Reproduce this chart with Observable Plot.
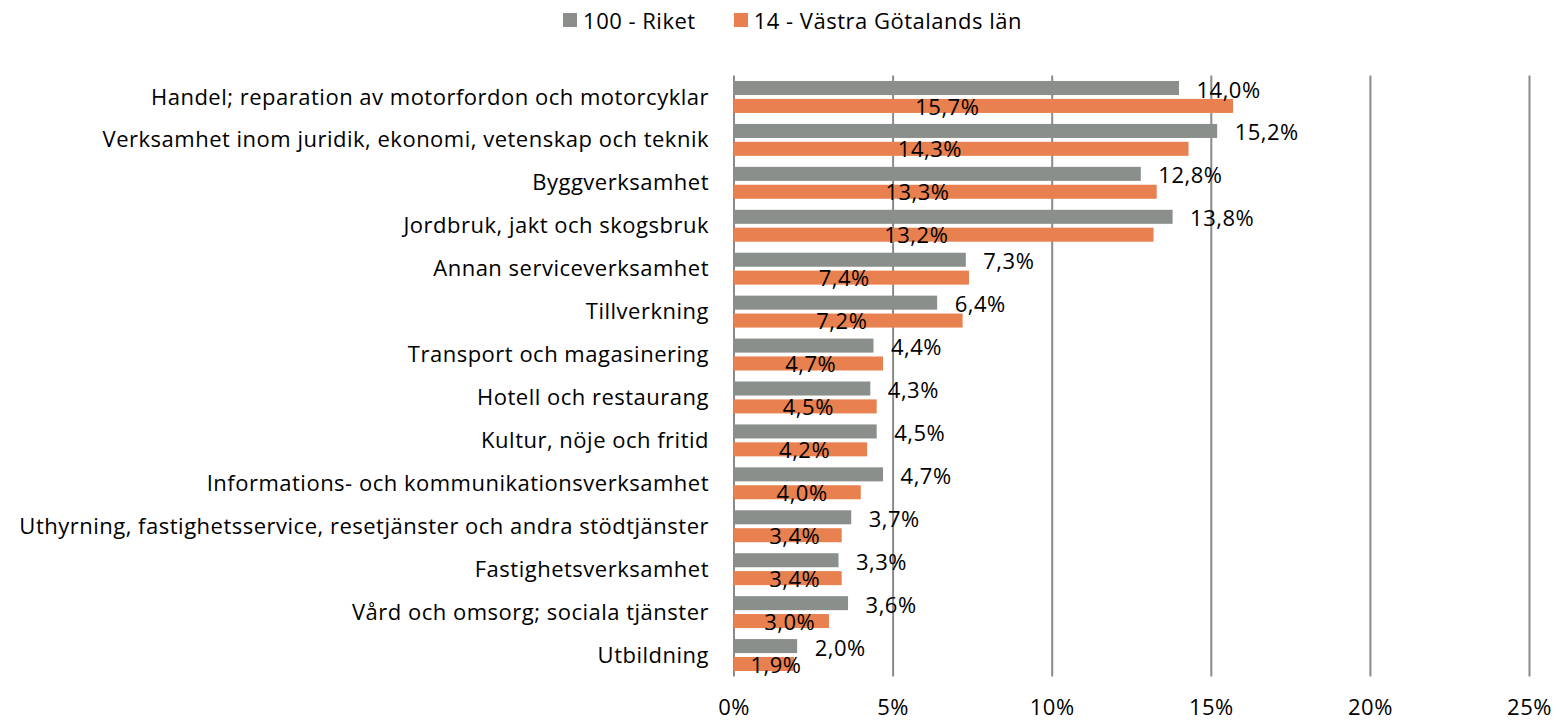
<!DOCTYPE html>
<html>
<head>
<meta charset="utf-8">
<script src="https://cdn.jsdelivr.net/npm/d3@7"></script>
<script src="https://cdn.jsdelivr.net/npm/@observablehq/plot@0.6"></script>
<style>
  html, body { margin: 0; padding: 0; background: #fff; }
  body { width: 1567px; height: 720px; overflow: hidden; font-family: "Open Sans", sans-serif; }
  #legend { height: 42px; display: flex; justify-content: center; align-items: center; font-size: 22px; letter-spacing: 0.5px; color: #000; padding-left: 18px; box-sizing: border-box; padding-bottom: 2px; }
  .item { display: flex; align-items: center; }
  .sw { width: 14px; height: 14px; margin-right: 6px; }
  #chart svg { display: block; }
</style>
</head>
<body>
<div id="legend"></div>
<div id="chart"></div>
<script>
const categories = [
  "Handel; reparation av motorfordon och motorcyklar",
  "Verksamhet inom juridik, ekonomi, vetenskap och teknik",
  "Byggverksamhet",
  "Jordbruk, jakt och skogsbruk",
  "Annan serviceverksamhet",
  "Tillverkning",
  "Transport och magasinering",
  "Hotell och restaurang",
  "Kultur, nöje och fritid",
  "Informations- och kommunikationsverksamhet",
  "Uthyrning, fastighetsservice, resetjänster och andra stödtjänster",
  "Fastighetsverksamhet",
  "Vård och omsorg; sociala tjänster",
  "Utbildning"
];
const seriesNames = ["100 - Riket", "14 - Västra Götalands län"];
const riket = [14.0, 15.2, 12.8, 13.8, 7.3, 6.4, 4.4, 4.3, 4.5, 4.7, 3.7, 3.3, 3.6, 2.0];
const vastra = [15.7, 14.3, 13.3, 13.2, 7.4, 7.2, 4.7, 4.5, 4.2, 4.0, 3.4, 3.4, 3.0, 1.9];
const xTicks = [0, 5, 10, 15, 20, 25];
const colors = ["#8B8F8C", "#E8804F"];

const rowsR = categories.map((c, i) => ({category: c, value: riket[i]}));
const rowsV = categories.map((c, i) => ({category: c, value: vastra[i]}));
const fmt = v => v.toFixed(1).replace(".", ",") + "%";

// legend
const legend = document.getElementById("legend");
seriesNames.forEach((name, i) => {
  const it = document.createElement("div");
  it.className = "item";
  if (i > 0) it.style.marginLeft = "38px";
  const sw = document.createElement("span");
  sw.className = "sw";
  sw.style.background = colors[i];
  const tx = document.createElement("span");
  tx.textContent = name;
  it.appendChild(sw); it.appendChild(tx);
  legend.appendChild(it);
});

const font = "'Open Sans', sans-serif";
const plot = Plot.plot({
  width: 1567,
  height: 678,
  marginLeft: 733.5,
  marginRight: 38,
  marginTop: 33.5,
  marginBottom: 43.5,
  style: {fontFamily: font, fontSize: "22px", letterSpacing: "0.5px", color: "#000", background: "#fff"},
  x: {domain: [0, 25], ticks: xTicks, tickFormat: d => d + "%", tickSize: 0, label: null},
  y: {domain: categories, padding: 0, round: false, tickSize: 0, label: null},
  marks: [
    Plot.ruleX(xTicks, {stroke: "#8a8a8a", strokeWidth: 2}),
    Plot.barX(rowsR, {x: "value", y: "category", fill: colors[0], insetTop: 5.5, insetBottom: 23.4}),
    Plot.barX(rowsV, {x: "value", y: "category", fill: colors[1], insetTop: 23.4, insetBottom: 5.5}),
    Plot.text(rowsR, {x: "value", y: "category", text: d => fmt(d.value), dx: 17, dy: -7, textAnchor: "start", fill: "#000", fontSize: 22}),
    Plot.text(rowsV, {x: d => d.value * 0.39 + 0.58, y: "category", text: d => fmt(d.value), dy: 10, textAnchor: "middle", fill: "#000", fontSize: 22}),
    Plot.axisX({ticks: xTicks, tickFormat: d => d + "%", tickSize: 0, tickPadding: 22, fontSize: 22, label: null}),
    Plot.axisY({tickSize: 0, tickPadding: 25, fontSize: 22, label: null})
  ]
});
document.getElementById("chart").appendChild(plot);
</script>
</body>
</html>
